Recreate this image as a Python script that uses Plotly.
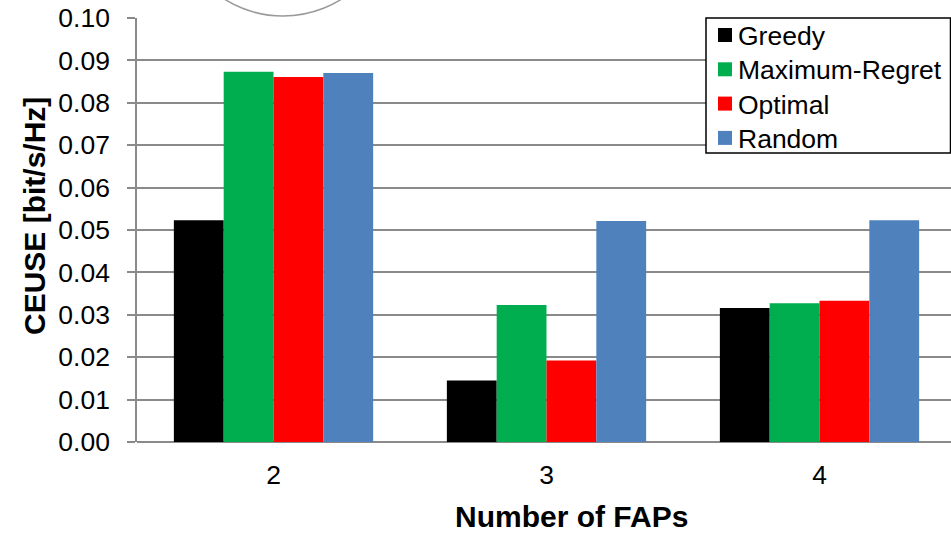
import plotly.graph_objects as go

# Number of FAPs (categories) and CEUSE per allocation scheme
categories = ["2", "3", "4"]
greedy = [0.0523, 0.0145, 0.0316]
max_regret = [0.0873, 0.0323, 0.0327]
optimal = [0.0861, 0.0192, 0.0333]
random_alloc = [0.0870, 0.0521, 0.0523]

series = [
    ("Greedy", greedy, "#000000"),
    ("Maximum-Regret", max_regret, "#00AD4F"),
    ("Optimal", optimal, "#FF0000"),
    ("Random", random_alloc, "#4F81BD"),
]

W, H = 951, 539
L, R, T, B = 137, 0, 18, 97
PW, PH = W - L - R, H - T - B


def px_x(p):
    return (p - L) / PW


def px_y(p):
    return (H - B - p) / PH


FONT = "Arial, Liberation Sans, sans-serif"
GRID = "#8A8A8A"
TICK_SIZE = 26.5

xpos = list(range(len(categories)))
fig = go.Figure()
for name, vals, color in series:
    fig.add_trace(go.Bar(
        x=xpos, y=vals, name=name, showlegend=False,
        marker=dict(color=color, line=dict(width=0)),
    ))

# legend drawn as a boxed key in the upper right corner
shapes = [
    dict(type="rect", xref="paper", yref="paper",
         x0=px_x(706), x1=px_x(950.5), y0=px_y(153), y1=px_y(18),
         line=dict(color="black", width=1.5), fillcolor="white", layer="above"),
    # partial callout ellipse peeking in above the plot
    dict(type="circle", xref="paper", yref="paper",
         x0=px_x(283 - 110), x1=px_x(283 + 110), y0=px_y(16), y1=px_y(16 - 220),
         line=dict(color="#999999", width=1.5), fillcolor="rgba(0,0,0,0)"),
]
annotations = []
row_step = 34.3
for i, (name, vals, color) in enumerate(series):
    cy = 35 + i * row_step
    shapes.append(dict(
        type="rect", xref="paper", yref="paper",
        x0=px_x(718), x1=px_x(732), y0=px_y(cy + 7), y1=px_y(cy - 7),
        line=dict(width=0), fillcolor=color, layer="above"))
    annotations.append(dict(
        text=name, xref="paper", yref="paper",
        x=px_x(736), y=px_y(cy + 1), xanchor="left", yanchor="middle",
        showarrow=False, font=dict(size=TICK_SIZE, family=FONT, color="black")))

annotations += [
    dict(text="<b>CEUSE [bit/s/Hz]</b>", textangle=-90,
         xref="paper", yref="paper", x=px_x(35), y=px_y(216),
         xanchor="center", yanchor="middle", showarrow=False,
         font=dict(size=30, family=FONT)),
    dict(text="<b>Number of FAPs</b>",
         xref="paper", yref="paper", x=px_x(571), y=px_y(516),
         xanchor="center", yanchor="middle", showarrow=False,
         font=dict(size=30, family=FONT)),
]

fig.update_layout(
    width=W, height=H,
    margin=dict(l=L, r=R, t=T, b=B),
    paper_bgcolor="white", plot_bgcolor="white",
    barmode="group", bargap=0.27, bargroupgap=0,
    font=dict(family=FONT, color="black", size=TICK_SIZE),
    showlegend=False,
    xaxis=dict(
        range=[-0.5, -0.5 + PW / 273.0],
        tickmode="array", tickvals=xpos, ticktext=categories,
        showgrid=False, zeroline=False,
        showline=False, ticks="",
        ticklabelstandoff=14,
        tickfont=dict(size=TICK_SIZE, family=FONT),
    ),
    yaxis=dict(
        range=[0, 0.1], dtick=0.01, tickformat=".2f",
        showgrid=True, gridcolor=GRID, gridwidth=1.5,
        zeroline=True, zerolinecolor=GRID, zerolinewidth=1.5,
        showline=True, linecolor=GRID, linewidth=1.5,
        ticks="outside", ticklen=8, tickcolor=GRID, tickwidth=1.5,
        ticklabelstandoff=12,
        tickfont=dict(size=TICK_SIZE, family=FONT),
    ),
    annotations=annotations,
    shapes=shapes,
)

fig.write_html("out.html")
